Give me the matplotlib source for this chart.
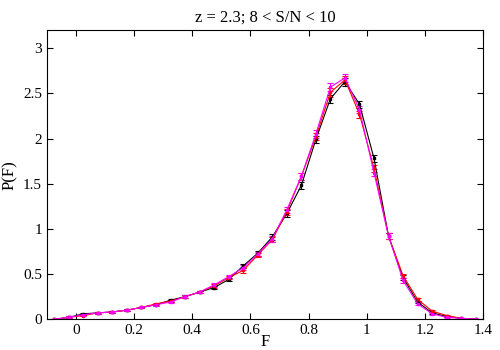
import numpy as np
import matplotlib.pyplot as plt

plt.rcParams['font.family'] = ['Liberation Serif', 'DejaVu Serif']

# bin centres
F = [-0.075, -0.025, 0.025, 0.075, 0.125, 0.175, 0.225, 0.275, 0.325, 0.375,
     0.425, 0.475, 0.525, 0.575, 0.625, 0.675, 0.725, 0.775, 0.825, 0.875,
     0.925, 0.975, 1.025, 1.075, 1.125, 1.175, 1.225, 1.275, 1.325, 1.375]

p_black = [0.0, 0.02, 0.06, 0.07, 0.08, 0.10, 0.13, 0.16, 0.21, 0.25,
           0.30, 0.35, 0.44, 0.59, 0.73, 0.91, 1.17, 1.48, 1.99, 2.44,
           2.63, 2.38, 1.78, 0.92, 0.46, 0.19, 0.07, 0.03, 0.01, 0.0]
p_red = [0.0, 0.02, 0.04, 0.07, 0.08, 0.10, 0.13, 0.17, 0.20, 0.25,
         0.30, 0.37, 0.46, 0.54, 0.71, 0.88, 1.19, 1.58, 2.02, 2.51,
         2.65, 2.27, 1.67, 0.92, 0.48, 0.22, 0.09, 0.04, 0.01, 0.0]
p_mag = [0.0, 0.02, 0.05, 0.07, 0.08, 0.10, 0.13, 0.16, 0.19, 0.25,
         0.30, 0.38, 0.47, 0.57, 0.72, 0.89, 1.21, 1.58, 2.05, 2.57,
         2.67, 2.32, 1.62, 0.92, 0.43, 0.17, 0.06, 0.02, 0.01, 0.0]

err_black = [0.005, 0.01, 0.01, 0.01, 0.01, 0.01, 0.01, 0.01, 0.015, 0.015,
             0.015, 0.02, 0.02, 0.025, 0.025, 0.03, 0.035, 0.04, 0.04, 0.045,
             0.045, 0.04, 0.04, 0.03, 0.025, 0.015, 0.01, 0.01, 0.005, 0.005]
err_red = err_black
err_mag = err_black

fig = plt.figure(figsize=(5, 3.5), dpi=100)
ax = fig.add_axes([0.094, 0.088, 0.872, 0.826])

series = [(p_black, err_black, 'black'), (p_red, err_red, 'red'), (p_mag, err_mag, 'magenta')]
for vals, err, col in series:
    ax.errorbar(F, vals, yerr=err, color=col, lw=0.8, elinewidth=0.8,
                capsize=2, capthick=0.8, marker='s', ms=1.5, mec=col)

ax.set_xlim(-0.1, 1.4)
ax.set_ylim(0, 3.2)
ax.set_xticks(np.arange(0, 1.41, 0.2))
ax.set_xticklabels(['0', '0.2', '0.4', '0.6', '0.8', '1', '1.2', '1.4'])
ax.set_yticks(np.arange(0, 3.01, 0.5))
ax.set_yticklabels(['0', '0.5', '1', '1.5', '2', '2.5', '3'])
ax.tick_params(direction='in', top=True, right=True, labelsize=11, length=4, width=0.8)
ax.set_xlabel('F', fontsize=12, labelpad=-2)
ax.set_ylabel('P(F)', fontsize=12)
ax.set_title('z = 2.3; 8 < S/N < 10', fontsize=12, pad=6)

fig.savefig('out.png', dpi=100)
